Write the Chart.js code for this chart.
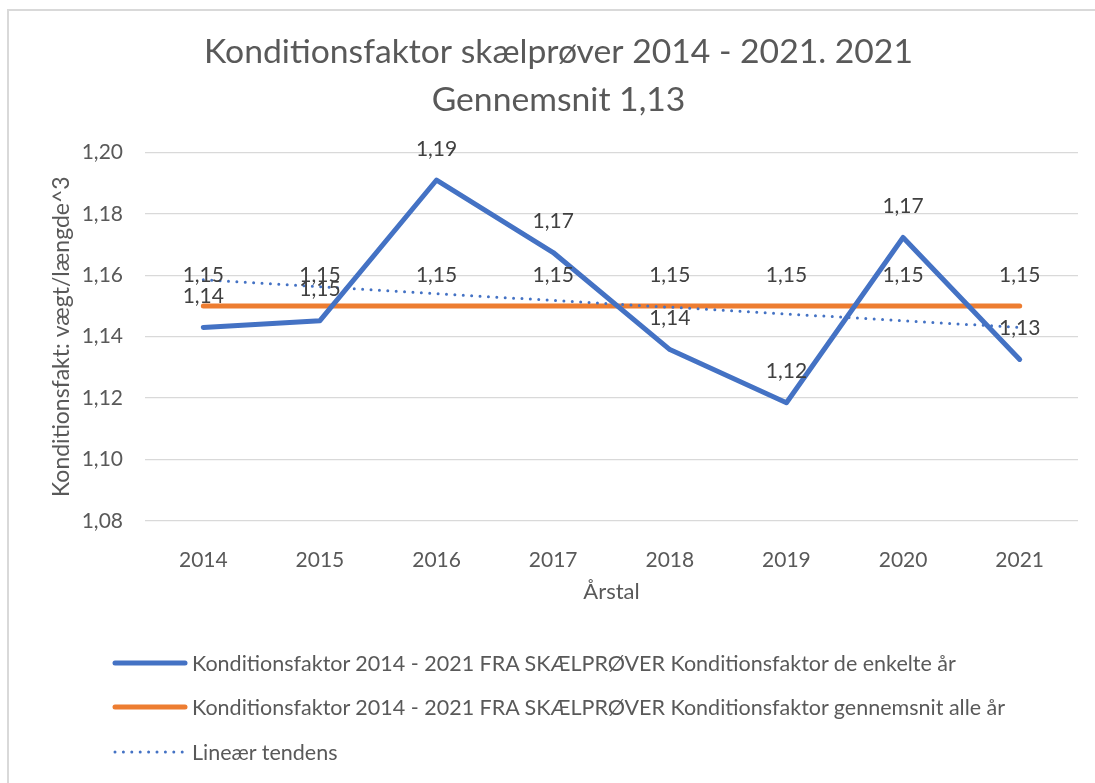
<!DOCTYPE html>
<html>
<head>
<meta charset="utf-8">
<script src="https://cdn.jsdelivr.net/npm/chart.js@4"></script>
<style>
  html, body { margin: 0; padding: 0; background: #fff; }
  body { width: 1095px; height: 783px; overflow: hidden; position: relative; font-family: Lato, sans-serif; }
  #frame { position: absolute; left: 7px; top: 9px; width: 1200px; height: 900px; border: 2px solid #d9d9d9; box-sizing: border-box; }
  #c { position: absolute; left: 0; top: 0; }
  .leg { position: absolute; left: 111px; height: 26px; display: flex; align-items: center; color: #595959; font-size: 21.5px; white-space: nowrap; }
  .leg svg { margin-right: 3px; }
</style>
</head>
<body>
<div id="frame"></div>
<canvas id="c" width="1095" height="783"></canvas>
<div class="leg" style="top:650px">
  <svg width="78" height="10"><line x1="4" y1="5" x2="74" y2="5" stroke="#4472C4" stroke-width="5" stroke-linecap="round"/></svg>
  <span>Konditionsfaktor 2014 - 2021 FRA SKÆLPRØVER Konditionsfaktor de enkelte år</span>
</div>
<div class="leg" style="top:694px">
  <svg width="78" height="10"><line x1="4" y1="5" x2="74" y2="5" stroke="#ED7D31" stroke-width="5" stroke-linecap="round"/></svg>
  <span>Konditionsfaktor 2014 - 2021 FRA SKÆLPRØVER Konditionsfaktor gennemsnit alle år</span>
</div>
<div class="leg" style="top:739px">
  <svg width="78" height="10"><line x1="4" y1="5" x2="74" y2="5" stroke="#4472C4" stroke-width="3" stroke-linecap="round" stroke-dasharray="0 8.4"/></svg>
  <span>Lineær tendens</span>
</div>
<script>
// data
var years = ['2014', '2015', '2016', '2017', '2018', '2019', '2020', '2021'];
var enkelteAar = [1.143, 1.1452, 1.191, 1.1674, 1.1358, 1.1185, 1.1723, 1.1326];
var gennemsnit = [1.15, 1.15, 1.15, 1.15, 1.15, 1.15, 1.15, 1.15];
var tendens = [1.1585, 1.1563, 1.1540, 1.1518, 1.1496, 1.1474, 1.1452, 1.1430];
var yTicks = [1.08, 1.10, 1.12, 1.14, 1.16, 1.18, 1.20];

var grey = '#595959';

function komma(v) {
    return v.toFixed(2).replace('.', ',');
}

// værdier over punkterne (blå og orange serie)
var labelPlugin = {
    id: 'punktLabels',
    afterDatasetsDraw: function (chart) {
        var ctx = chart.ctx;
        ctx.save();
        ctx.font = '21px Lato';
        ctx.fillStyle = '#404040';
        ctx.textAlign = 'center';
        ctx.textBaseline = 'middle';
        [0, 1].forEach(function (i) {
            var meta = chart.getDatasetMeta(i);
            var data = chart.data.datasets[i].data;
            meta.data.forEach(function (pt, j) {
                ctx.fillText(komma(data[j]), pt.x, pt.y - 31);
            });
        });
        ctx.restore();
    }
};

new Chart(document.getElementById('c'), {
    type: 'line',
    data: {
        labels: years,
        datasets: [{
            label: 'Konditionsfaktor 2014 - 2021 FRA SKÆLPRØVER Konditionsfaktor de enkelte år',
            data: enkelteAar,
            borderColor: '#4472C4',
            borderWidth: 5,
            borderJoinStyle: 'round',
            borderCapStyle: 'round',
            pointRadius: 0,
            order: 1
        }, {
            label: 'Konditionsfaktor 2014 - 2021 FRA SKÆLPRØVER Konditionsfaktor gennemsnit alle år',
            data: gennemsnit,
            borderColor: '#ED7D31',
            borderWidth: 5,
            borderCapStyle: 'round',
            pointRadius: 0,
            order: 2
        }, {
            label: 'Lineær tendens',
            data: tendens,
            borderColor: '#4472C4',
            borderWidth: 3,
            borderDash: [0, 8.4],
            borderCapStyle: 'round',
            pointRadius: 0,
            order: 0
        }]
    },
    options: {
        responsive: false,
        animation: false,
        layout: { padding: { left: 39, right: 17, top: 0, bottom: 170 } },
        plugins: {
            legend: { display: false },
            tooltip: { enabled: false },
            title: {
                display: true,
                text: ['Konditionsfaktor skælprøver 2014 - 2021. 2021', 'Gennemsnit 1,13'],
                color: grey,
                font: { family: 'Lato', size: 33.7, weight: 'normal', lineHeight: 1.4 },
                padding: { top: 29, bottom: 29 }
            }
        },
        scales: {
            x: {
                offset: true,
                grid: { display: false },
                border: { display: false },
                ticks: { color: grey, font: { family: 'Lato', size: 21 }, padding: 19, maxRotation: 0 },
                title: {
                    display: true,
                    text: 'Årstal',
                    color: grey,
                    font: { family: 'Lato', size: 22, lineHeight: 1.2 },
                    padding: { top: 0, bottom: 8 }
                },
                afterFit: function (s) { s.height = 92; }
            },
            y: {
                min: 1.08,
                max: 1.20,
                grid: { color: '#d9d9d9', lineWidth: 1.3, drawTicks: false },
                border: { display: false },
                afterBuildTicks: function (s) {
                    s.ticks = yTicks.map(function (v) { return { value: v }; });
                },
                ticks: {
                    color: grey,
                    font: { family: 'Lato', size: 21 },
                    padding: 22,
                    callback: function (v) { return komma(v); }
                },
                title: {
                    display: true,
                    text: 'Konditionsfakt: vægt/længde^3',
                    color: grey,
                    font: { family: 'Lato', size: 23, lineHeight: 1.2 },
                    padding: { top: 9, bottom: 0 }
                },
                afterFit: function (s) { s.width = 106; }
            }
        }
    },
    plugins: [labelPlugin]
});
</script>
</body>
</html>
